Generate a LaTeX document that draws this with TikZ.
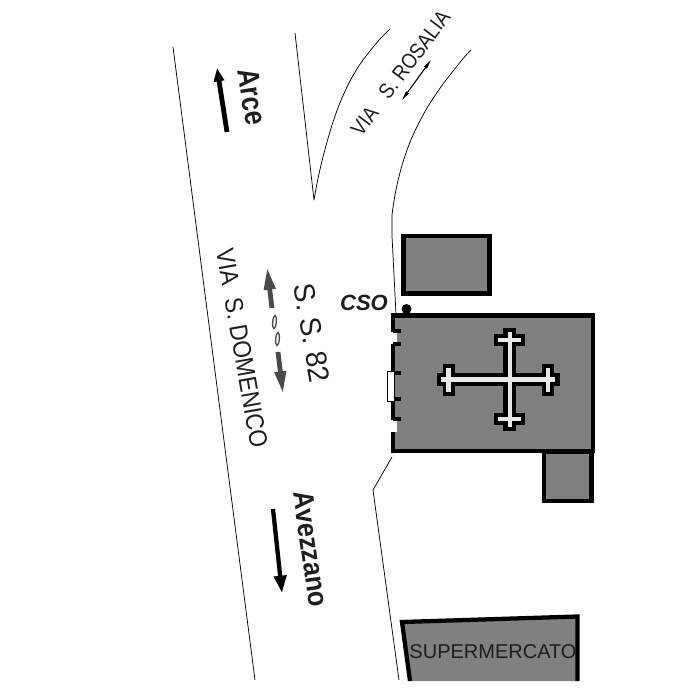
\documentclass[tikz,border=0pt]{standalone}
\usepackage{graphicx}
\usepackage{fontspec}
\setmainfont{Liberation Sans}
\usetikzlibrary{arrows.meta}
\definecolor{bldg}{HTML}{808080}
\definecolor{ink}{HTML}{1E1E1E}
\definecolor{pale}{HTML}{E8E8E8}
\definecolor{arrgray}{HTML}{4A4A4A}
\newcommand{\fs}[1]{\fontsize{#1}{#1}\selectfont}
\tikzset{
  x=0.75pt,y=-0.75pt,
  road/.style={draw=black,line width=0.55pt,line join=round},
  wall/.style={draw=black,fill=bldg,line width=3.2pt,miter limit=10},
  tick/.style={draw=black,line width=3pt},
  lab/.style={text=ink,inner sep=0pt},
  crossblack/.style={draw=black,line width=9.5pt},
  capblack/.style={draw=black,line width=9pt},
  crosspale/.style={draw=pale,line width=3.2pt},
  bigarrow/.style={draw=black,line width=3.2pt,-{Triangle[width=9pt,length=13pt]}},
  grayarrow/.style={draw=arrgray,line width=3.6pt,-{Triangle[width=8pt,length=17pt]}},
}
\begin{document}
\begin{tikzpicture}
\useasboundingbox (0,0) rectangle (700,700);
% roads
\draw[road] (173,47) -- (255,680);
\draw[road] (295,33) -- (314,200) .. controls (319,170) and (325,148) .. (332,125) .. controls (340,100) and (350,78) .. (363,60) .. controls (372,48) and (381,37) .. (390,29);
\draw[road] (471,50) .. controls (463,58) and (457,66) .. (450,75) .. controls (441,86) and (434,97) .. (427,108) .. controls (419,122) and (412,136) .. (407,150) .. controls (400,170) and (395,190) .. (392,215) -- (392,236) -- (396,314);
\draw[road] (392,457) -- (373,490) -- (399,680);
% small boxes
\draw[wall] (403.5,236) rectangle (489.5,293.5);
\draw[wall] (544,452) rectangle (591.5,501);
% dot
\fill[black] (406.5,309) circle (5);
% church
\draw[wall] (393,315.5) rectangle (593,451);
\fill[white] (389,332) rectangle (397,344);
\fill[white] (389,420) rectangle (397,432);
\foreach \yy in {331,344,373,399,419}{\draw[tick] (393,\yy) -- (401,\yy);}
\fill[white] (391,373) rectangle (395,400);
\draw[black,fill=white,line width=0.6pt] (387.5,371) rectangle (394,401);
% cross
\draw[crossblack] (437,379.5) -- (560,379.5);
\draw[crossblack] (509.5,328) -- (509.5,431);
\draw[capblack] (494,340) -- (525,340);
\draw[capblack] (494,419) -- (525,419);
\draw[capblack] (448.5,364) -- (448.5,396);
\draw[capblack] (548,364) -- (548,396);
\draw[crosspale] (441,379.5) -- (555,379.5);
\draw[crosspale] (510,332) -- (510,427);
\draw[crosspale] (498,340) -- (521,340);
\draw[crosspale] (498,419) -- (521,419);
\draw[crosspale] (448.5,368) -- (448.5,392);
\draw[crosspale] (548,368) -- (548,392);
% supermarket
\fill[bldg] (401.5,622) -- (578,616.5) -- (578,681) -- (410,681) -- cycle;
\draw[draw=black,line width=3.2pt] (410,681) -- (402,622) -- (577.5,616.5) -- (577.5,681);
\node[lab] (supermercato) at (493,652) {\fs{15}SUPERMERCATO};
% arrows
\coordinate (arceTail) at (227,132);
\coordinate (arceTip) at (217,68);
\draw[draw=black,line width=3.6pt,-{Triangle[width=7.5pt,length=10pt]}] (arceTail) -- (arceTip);
\coordinate (aveTail) at (273,509);
\coordinate (aveTip) at (282,593);
\draw[bigarrow] (aveTail) -- (aveTip);
\coordinate (ssUpTail) at (272,308);
\coordinate (ssUpTip) at (267,267);
\draw[grayarrow] (ssUpTail) -- (ssUpTip);
\coordinate (ssDnTail) at (278,352);
\coordinate (ssDnTip) at (283,394);
\draw[grayarrow] (ssDnTail) -- (ssDnTip);
\draw[arrgray,line width=1pt,rotate around={-5:(274.5,322)}] (274.5,322) ellipse (1.8 and 6.5);
\draw[arrgray,line width=1pt,rotate around={-5:(277.5,339)}] (277.5,339) ellipse (1.8 and 6.5);
\coordinate (rosA) at (402,100);
\coordinate (rosB) at (431,60);
\draw[draw=black,line width=0.8pt,{Triangle[width=2.5pt,length=7pt]}-{Triangle[width=2.5pt,length=7pt]}] (rosA) -- (rosB);
% labels
\node[lab,rotate=-81] (arce) at (252,97) {\scalebox{1}[1.2]{\fs{19}\bfseries Arce}};
\node[lab,rotate=-82] (avezzano) at (311,549) {\scalebox{1}[1.12]{\fs{19}\bfseries Avezzano}};
\node[lab,rotate=-80] (ss) at (312,333) {\scalebox{1}[1.05]{\fs{21}S. S. 82}};
\node[lab,rotate=-80] (domenico) at (242,348.5) {\scalebox{1}[1.12]{\fs{17}VIA\ \ S. DOMENICO}};
\node[lab,rotate=53] (rosalia) at (400.5,73) {\scalebox{1}[1.15]{\fs{14}VIA\ \ \ S. ROSALIA}};
\node[lab] (cso) at (364,303) {\fs{16.5}\bfseries\itshape CSO};
\end{tikzpicture}
\end{document}
